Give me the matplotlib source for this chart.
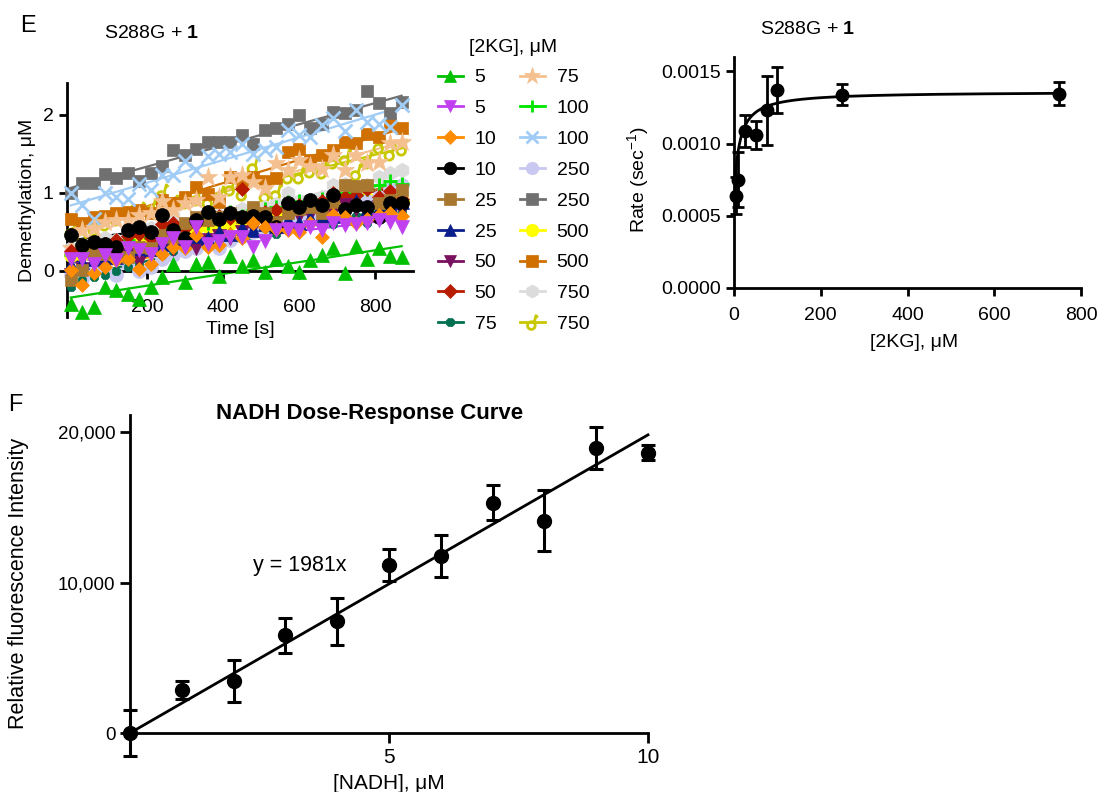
import numpy as np
import matplotlib.pyplot as plt
from matplotlib.lines import Line2D
from matplotlib.path import Path
from matplotlib.ticker import FuncFormatter

plt.rcParams['font.family'] = ['Liberation Sans', 'DejaVu Sans']
plt.rcParams['mathtext.fontset'] = 'custom'
plt.rcParams['mathtext.rm'] = 'Liberation Sans'
plt.rcParams['mathtext.bf'] = 'Liberation Sans:bold'
plt.rcParams['mathtext.it'] = 'Liberation Sans:italic'

W, H = 1105, 792

# ---- E (left): demethylation time courses, two traces per [2KG]
time_s = np.arange(30) * 30

tc_5a = [-0.42, -0.53, -0.46, -0.20, -0.25, -0.29, -0.36, -0.20, -0.08, 0.09, -0.14, 0.09, 0.12, -0.06, 0.19,
         0.06, 0.14, -0.01, 0.16, 0.06, -0.01, 0.14, 0.21, 0.30, -0.03, 0.32, 0.16, 0.29, 0.19, 0.18]
tc_5b = [0.16, 0.16, 0.09, 0.20, 0.14, 0.29, 0.27, 0.22, 0.35, 0.42, 0.31, 0.57, 0.35, 0.39, 0.44,
         0.44, 0.31, 0.39, 0.52, 0.54, 0.52, 0.57, 0.52, 0.61, 0.59, 0.60, 0.62, 0.65, 0.63, 0.57]
tc_10a = [0.01, -0.18, -0.03, 0.05, 0.14, 0.16, 0.03, 0.09, 0.22, 0.31, 0.29, 0.46, 0.31, 0.33, 0.48,
          0.42, 0.61, 0.57, 0.54, 0.52, 0.50, 0.61, 0.43, 0.72, 0.69, 0.61, 0.67, 0.72, 0.74, 0.70]
tc_10b = [0.46, 0.33, 0.37, 0.35, 0.31, 0.52, 0.57, 0.50, 0.72, 0.52, 0.42, 0.65, 0.76, 0.67, 0.74,
          0.69, 0.70, 0.69, 0.56, 0.87, 0.82, 0.91, 0.84, 0.97, 0.80, 0.84, 0.82, 0.69, 0.87, 0.87]
tc_25a = [-0.12, 0.01, 0.22, 0.22, 0.31, 0.18, 0.31, 0.29, 0.46, 0.44, 0.61, 0.69, 0.65, 0.69, 0.74,
          0.69, 0.82, 0.74, 0.63, 0.74, 0.80, 0.82, 0.74, 0.89, 1.10, 1.09, 1.10, 0.87, 0.91, 1.04]
tc_25b = [0.08, 0.12, 0.15, 0.20, 0.18, 0.25, 0.30, 0.28, 0.35, 0.40, 0.38, 0.45, 0.42, 0.50, 0.48,
          0.55, 0.52, 0.60, 0.58, 0.65, 0.62, 0.68, 0.72, 0.70, 0.75, 0.90, 0.78, 0.80, 0.85, 0.88]
tc_50a = [-0.05, 0.02, 0.10, 0.05, 0.15, 0.20, 0.12, 0.25, 0.30, 0.28, 0.35, 0.30, 0.40, 0.45, 0.42,
          0.50, 0.55, 0.60, 0.62, 0.80, 0.70, 0.72, 0.68, 0.75, 0.85, 0.80, 0.78, 0.82, 0.80, 0.78]
tc_50b = [0.25, 0.30, 0.22, 0.35, 0.40, 0.45, 0.48, 0.42, 0.60, 0.62, 0.55, 0.60, 0.65, 0.70, 0.68,
          1.05, 0.72, 0.75, 0.78, 0.82, 0.85, 0.80, 0.90, 1.00, 0.95, 0.98, 1.05, 0.95, 1.02, 0.92]
tc_75a = [-0.20, -0.12, -0.08, -0.05, 0.00, 0.05, 0.10, 0.08, 0.20, 0.25, 0.30, 0.35, 0.38, 0.40, 0.45,
          0.42, 0.50, 0.55, 0.48, 0.60, 0.58, 0.62, 0.65, 0.60, 0.68, 0.70, 0.62, 0.72, 0.70, 0.75]
tc_75b = [0.30, 0.52, 0.55, 0.63, 0.65, 0.65, 0.72, 0.74, 0.90, 0.78, 0.87, 0.91, 1.21, 0.95, 1.21,
          1.23, 1.14, 1.06, 1.38, 1.29, 1.42, 1.34, 1.31, 1.49, 1.29, 1.49, 1.38, 1.40, 1.64, 1.66]
tc_100a = [0.20, 0.25, 0.30, 0.28, 0.35, 0.40, 0.45, 0.42, 0.50, 0.55, 0.58, 0.60, 0.62, 0.68, 0.75,
           0.70, 0.78, 0.80, 0.82, 0.88, 0.90, 0.85, 0.92, 0.95, 1.00, 0.98, 1.05, 1.10, 1.15, 1.12]
tc_100b = [1.00, 0.84, 0.67, 1.00, 0.95, 0.92, 1.11, 1.04, 1.23, 1.23, 1.41, 1.29, 1.47, 1.50, 1.53,
           1.63, 1.50, 1.55, 1.59, 1.81, 1.74, 1.72, 1.87, 1.96, 1.79, 2.06, 1.91, 1.89, 1.84, 2.13]
tc_250a = [-0.05, -0.10, 0.00, 0.05, -0.05, 0.10, 0.00, 0.05, 0.15, 0.20, 0.25, 0.30, 0.35, 0.30, 0.40,
           0.45, 0.50, 0.48, 0.55, 0.60, 0.65, 0.70, 0.72, 0.75, 0.80, 0.85, 0.90, 0.95, 1.05, 1.10]
tc_250b = [1.00, 1.13, 1.13, 1.24, 1.19, 1.25, 1.16, 1.26, 1.34, 1.55, 1.49, 1.57, 1.66, 1.66, 1.66,
           1.74, 1.63, 1.81, 1.83, 1.89, 2.00, 1.83, 1.89, 2.04, 2.02, 2.06, 2.31, 2.16, 2.02, 2.17]
tc_500a = [0.20, 0.22, 0.25, 0.30, 0.28, 0.35, 0.40, 0.38, 0.45, 0.50, 0.52, 0.55, 0.58, 0.60, 0.62,
           0.65, 0.70, 0.72, 0.75, 0.78, 0.80, 0.85, 0.82, 0.88, 0.90, 0.85, 0.92, 0.90, 0.95, 0.90]
tc_500b = [0.67, 0.61, 0.69, 0.70, 0.74, 0.76, 0.78, 0.74, 0.91, 0.87, 0.95, 1.08, 0.99, 0.89, 1.21,
           1.14, 1.21, 1.16, 1.19, 1.53, 1.57, 1.42, 1.49, 1.55, 1.66, 1.64, 1.76, 1.72, 1.89, 1.83]
tc_750a = [0.30, 0.33, 0.35, 0.42, 0.40, 0.47, 0.50, 0.55, 0.52, 0.70, 0.60, 0.67, 0.62, 0.72, 0.75,
           0.80, 0.78, 0.82, 0.86, 1.00, 0.90, 0.85, 0.95, 1.10, 1.12, 1.05, 1.10, 1.20, 1.25, 1.30]
tc_750b = [0.52, 0.48, 0.57, 0.63, 0.69, 0.74, 0.78, 0.82, 1.01, 0.87, 0.91, 0.95, 0.91, 0.99, 1.08,
           1.01, 1.36, 0.99, 1.01, 1.23, 1.23, 1.31, 1.29, 1.42, 1.46, 1.27, 1.42, 1.61, 1.53, 1.59]

kg_conc = [5, 5, 10, 10, 25, 25, 50, 50, 75, 75, 100, 100, 250, 250, 500, 500, 750, 750]
traces = [tc_5a, tc_5b, tc_10a, tc_10b, tc_25a, tc_25b, tc_50a, tc_50b, tc_75a,
          tc_75b, tc_100a, tc_100b, tc_250a, tc_250b, tc_500a, tc_500b, tc_750a, tc_750b]

# ---- E (right): initial rate vs [2KG]
kg_rate_x = [5, 10, 25, 50, 75, 100, 250, 750]
kg_rate_y = [0.00064, 0.00075, 0.00109, 0.00106, 0.00123, 0.00137, 0.00134, 0.001345]
kg_rate_err = [0.00013, 0.00019, 0.00011, 0.00010, 0.00024, 0.00016, 0.00007, 0.00008]
fit_base, fit_amp, fit_km = 0.00062, 0.00074, 12.0

# ---- F: NADH standard curve
nadh_x = [0, 1, 2, 3, 4, 5, 6, 7, 8, 9, 10]
nadh_y = [0, 2880, 3470, 6480, 7410, 11170, 11770, 15310, 14120, 18920, 18630]
nadh_err = [1550, 600, 1380, 1160, 1530, 1060, 1400, 1180, 2040, 1400, 520]
nadh_slope = 1981

# odd "circle with a tail" marker used for the last trace
circ = Path.unit_circle()
ring = Path(circ.vertices * 0.5 + [-0.15, -0.4], circ.codes)
tail = Path([[0.2, -0.05], [0.45, 0.9], [0.7, 0.65]], [Path.MOVETO, Path.LINETO, Path.LINETO])
tail_mark = Path.make_compound_path(ring, tail)

markers = ['^', 'v', 'D', 'o', 's', '^', 'v', 'D', '8', '*', '+', 'x', 'o', 's', 'o', 's', 'h', tail_mark]
colors = ['#00C000', '#C040F0', '#FF8C00', '#000000', '#A87830', '#0A1E8C', '#7A1060', '#B81C00', '#007050',
          '#F5C090', '#00E600', '#A0CCF5', '#C8C8F0', '#707070', '#FFFF00', '#D07000', '#DCDCDC', '#C8C800']
msizes = [10, 10, 7.5, 10, 9, 10, 10, 7.5, 6.5, 14, 10, 9.5, 10, 9, 10, 9, 10.5, 11]


def style_axes(ax):
    for s in ['top', 'right']:
        ax.spines[s].set_visible(False)
    for s in ['left', 'bottom']:
        ax.spines[s].set_linewidth(2)
    ax.tick_params(direction='out', length=6, width=2, labelsize=14)


def marker_kw(i, scale=1.0):
    mk = markers[i]
    open_mk = mk is tail_mark
    thin = isinstance(mk, str) and mk in ('+', 'x')
    return dict(marker=mk, ms=msizes[i] * scale, color=colors[i],
                mfc='none' if open_mk else colors[i],
                mew=2 if (thin or open_mk) else 0.5)


fig = plt.figure(figsize=(W / 100, H / 100), dpi=100)

# panel E left
ax_e = fig.add_axes([67 / W, 1 - 317 / H, (413 - 67) / W, (317 - 83) / H])
handles = []
for i in reversed(range(len(traces))):
    y = np.array(traces[i])
    # first traces in the legend end up on top
    ax_e.plot(time_s, y, ls='none', zorder=3 + (len(traces) - i) * 0.01, clip_on=False, **marker_kw(i))
    k, b = np.polyfit(time_s, y, 1)
    ax_e.plot([time_s[0], time_s[-1]], [b, b + k * time_s[-1]], color=colors[i], lw=1.6, zorder=2.5)
for i in range(len(traces)):
    handles.append(Line2D([], [], lw=2, label=str(kg_conc[i]), **marker_kw(i, 0.9)))
style_axes(ax_e)
ax_e.spines['bottom'].set_position(('data', 0))
ax_e.set_xlim(-10, 900)
ax_e.set_ylim(-0.59, 2.41)
ax_e.set_xticks([200, 400, 600, 800])
ax_e.set_yticks([0, 1, 2])
ax_e.tick_params(axis='x', pad=14)
ax_e.set_xlabel('Time [s]', fontsize=14)
ax_e.set_ylabel('Demethylation, μM', fontsize=14)
ax_e.xaxis.set_label_coords(0.5, -0.015)
ax_e.yaxis.set_label_coords(-0.09, 0.5)

leg = ax_e.legend(handles=handles, ncol=2, loc='upper left', bbox_to_anchor=(424 / W, 1 - 25 / H),
                  bbox_transform=fig.transFigure, frameon=False, fontsize=14,
                  title='[2KG], μM', title_fontsize=14, handlelength=1.3, handletextpad=0.6,
                  columnspacing=1.2, labelspacing=0.68, borderpad=0.2)

# panel E right
ax_r = fig.add_axes([734 / W, 1 - 288 / H, (1081 - 734) / W, (288 - 57) / H])
xs = np.linspace(2.5, 750, 400)
ax_r.plot(xs, fit_base + fit_amp * xs / (fit_km + xs), color='black', lw=2)
ax_r.errorbar(kg_rate_x, kg_rate_y, yerr=kg_rate_err, fmt='o', color='black', ms=9,
              capsize=4, elinewidth=2, capthick=2, clip_on=False, zorder=4)
style_axes(ax_r)
ax_r.set_xlim(0, 800)
ax_r.set_ylim(0, 0.0016)
ax_r.set_xticks([0, 200, 400, 600, 800])
ax_r.set_yticks([0, 0.0005, 0.0010, 0.0015])
ax_r.yaxis.set_major_formatter(FuncFormatter(lambda v, p: f'{v:.4f}'))
ax_r.tick_params(axis='x', pad=8)
ax_r.set_xlabel('[2KG], μM', fontsize=14)
ax_r.set_ylabel('Rate (sec$^{-1}$)', fontsize=14)
ax_r.xaxis.set_label_coords(0.52, -0.2)
ax_r.yaxis.set_label_coords(-0.24, 0.47)

# panel F
ax_f = fig.add_axes([130 / W, 1 - 758.6 / H, 533.5 / W, (758.6 - 415) / H])
ax_f.plot([0, 10], [0, nadh_slope * 10], color='black', lw=2)
ax_f.errorbar(nadh_x, nadh_y, yerr=nadh_err, fmt='o', color='black', ms=10,
              capsize=5, elinewidth=2.2, capthick=2.2, clip_on=False, zorder=4)
style_axes(ax_f)
ax_f.spines['bottom'].set_position(('data', 0))
ax_f.spines['bottom'].set_bounds(0, 10)
ax_f.spines['left'].set_bounds(0, 21130)
ax_f.set_xlim(0, 10.3)
ax_f.set_ylim(-1700, 21130)
ax_f.set_xticks([5, 10])
ax_f.set_yticks([0, 10000, 20000])
ax_f.yaxis.set_major_formatter(FuncFormatter(lambda v, p: f'{v:,.0f}'))
ax_f.tick_params(length=7, labelsize=15)
ax_f.tick_params(axis='y', labelsize=13.5)
ax_f.tick_params(axis='x', pad=4)
ax_f.text(3.28, 11160, 'y = 1981x', fontsize=15.5, ha='center', va='center')
ax_f.set_xlabel('[NADH], μM', fontsize=15)
ax_f.set_ylabel('Relative fluorescence Intensity', fontsize=15.5)
ax_f.xaxis.set_label_coords(0.486, -0.045)
ax_f.yaxis.set_label_coords(-0.19, 0.51)

# panel letters and titles
fig.text(20 / W, 1 - 26 / H, 'E', fontsize=17, va='center')
fig.text(152 / W, 1 - 33 / H, 'S288G + $\\mathbf{1}$', fontsize=14, ha='center', va='center')
fig.text(808 / W, 1 - 30 / H, 'S288G + $\\mathbf{1}$', fontsize=14, ha='center', va='center')
fig.text(8 / W, 1 - 405 / H, 'F', fontsize=17, va='center')
fig.text(370 / W, 1 - 413 / H, 'NADH Dose-Response Curve', fontsize=16, fontweight='bold',
         ha='center', va='center')

fig.savefig('out.png', dpi=100)
